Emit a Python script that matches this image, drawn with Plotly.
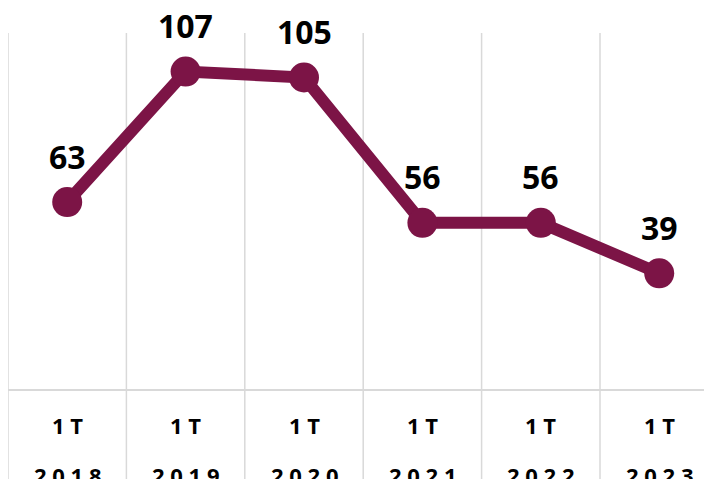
import plotly.graph_objects as go

quarters = ["1T", "1T", "1T", "1T", "1T", "1T"]
years = ["2018", "2019", "2020", "2021", "2022", "2023"]
values = [63, 107, 105, 56, 56, 39]

LINE = "#7C1446"
GRID = "#D9D9D9"
FONT = "Open Sans"

x = list(range(len(values)))

fig = go.Figure()
fig.add_trace(go.Scatter(
    x=x, y=values, mode="lines+markers",
    line=dict(color=LINE, width=12),
    marker=dict(color=LINE, size=30),
    hoverinfo="skip", showlegend=False,
))

annotations = []
for i, v in enumerate(values):
    annotations.append(dict(x=i, y=v, xref="x", yref="y", text=f"<b>{v}</b>",
                            showarrow=False, yshift=46,
                            font=dict(family=FONT, size=32, color="#000000")))
    annotations.append(dict(x=i, y=0, xref="x", yref="paper", text=f"<b>{' '.join(quarters[i])}</b>",
                            showarrow=False, yshift=-36, yanchor="middle",
                            font=dict(family=FONT, size=22, color="#000000")))
    annotations.append(dict(x=i, y=0, xref="x", yref="paper", text=f"<b>{' '.join(years[i])}</b>",
                            showarrow=False, yshift=-86, yanchor="middle",
                            font=dict(family=FONT, size=22, color="#000000")))

shapes = []
for i in range(len(values) + 1):
    shapes.append(dict(type="line", xref="x", yref="paper", x0=i - 0.5, x1=i - 0.5,
                       y0=-0.3, y1=1, line=dict(color=GRID, width=1.5), layer="below"))

fig.update_layout(
    width=712, height=479,
    margin=dict(l=0, r=0, t=25, b=98),
    paper_bgcolor="white", plot_bgcolor="white",
    xaxis=dict(range=[-0.5, -0.5 + 712 / 118.4], showgrid=False, zeroline=False,
               showticklabels=False, showline=True, linecolor=GRID, linewidth=1.5,
               fixedrange=True),
    yaxis=dict(range=[0, 120], showgrid=False, zeroline=False, showticklabels=False,
               showline=False, fixedrange=True),
    annotations=annotations,
    shapes=shapes,
)

fig.write_html("out.html")
